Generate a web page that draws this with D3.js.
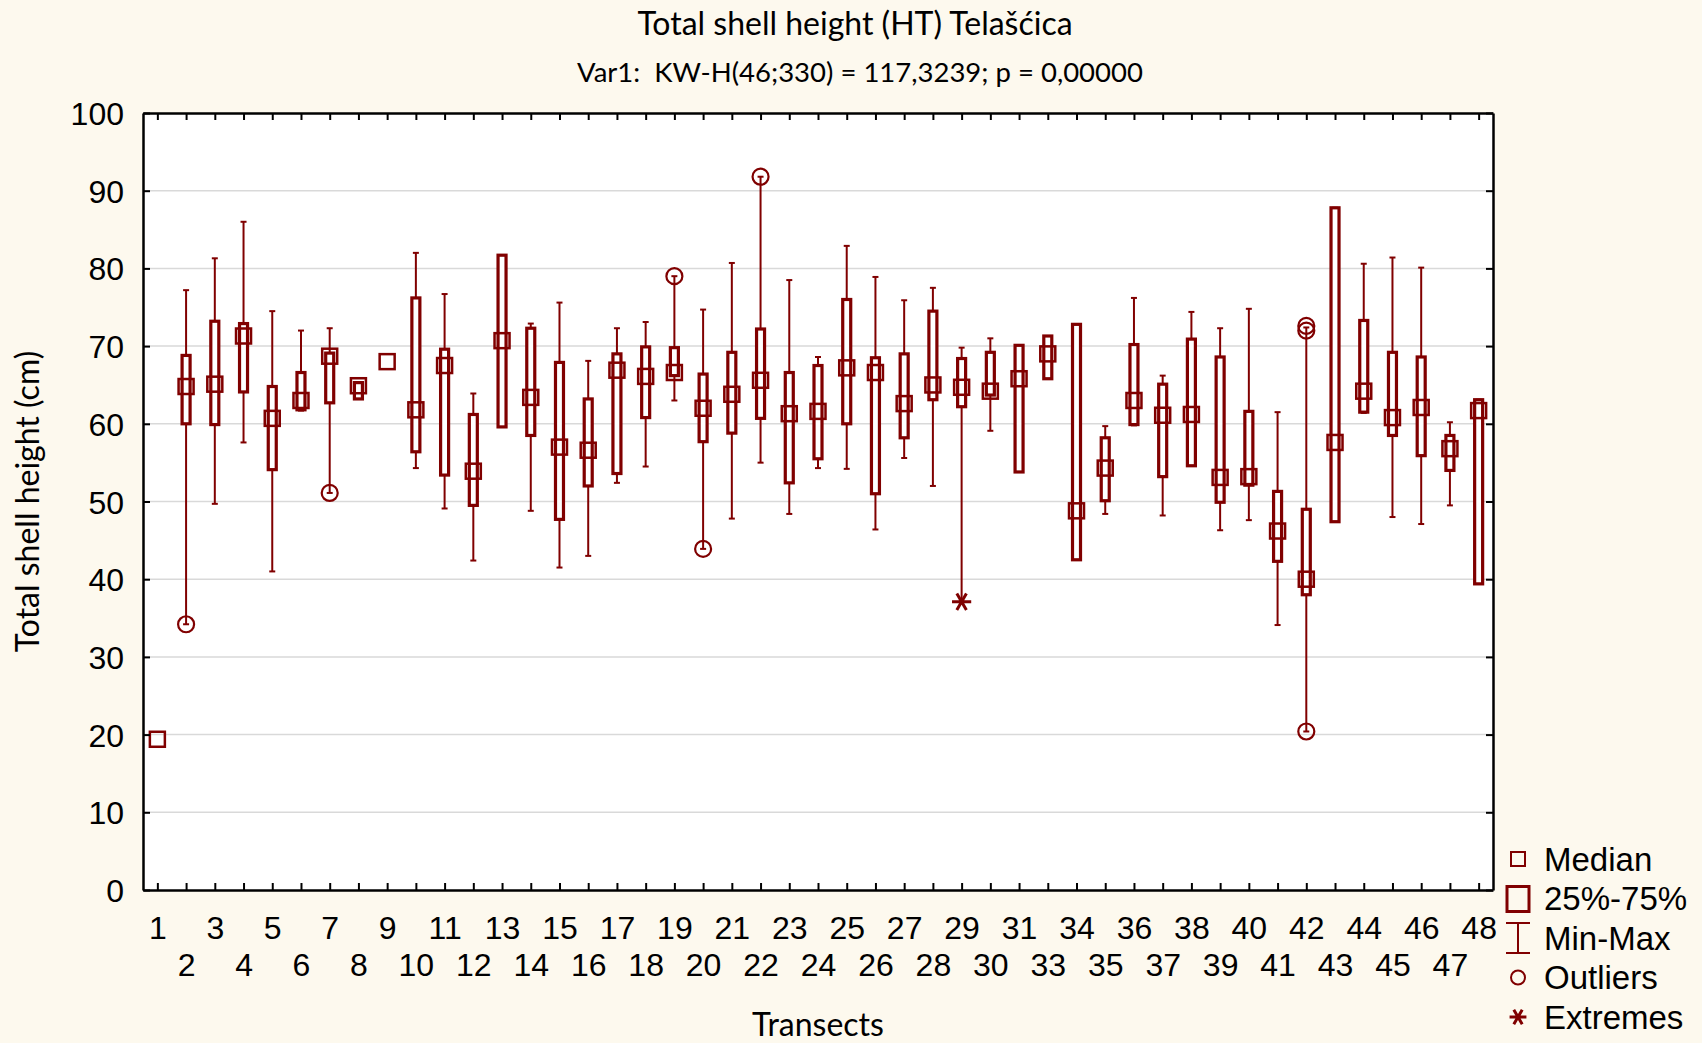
<!DOCTYPE html>
<html>
<head>
<meta charset="utf-8">
<script src="https://d3js.org/d3.v7.min.js"></script>
<style>
  body { margin: 0; background: #fdf9ee; }
  svg { display: block; }
</style>
</head>
<body>
<svg width="1702" height="1043"></svg>
<script>
// box plot of total shell height per transect

var transects = ['1','2','3','4','5','6','7','8','9','10','11','12','13','14','15','16',
  '17','18','19','20','21','22','23','24','25','26','27','28','29','30','31','33',
  '34','35','36','37','38','39','40','41','42','43','44','45','46','47','48'];

var mins    = [19.4,34.2,49.7,57.6,41.0,61.7,51.1,63.2,68.0,54.3,49.1,42.4,59.6,48.8,41.5,43.0,
  52.4,54.5,63.0,43.9,47.8,55.0,48.4,54.3,54.2,46.4,55.6,52.0,37.1,59.1,53.8,65.8,
  42.5,48.4,59.8,48.2,54.6,46.3,47.6,34.1,20.4,47.4,61.4,48.0,47.1,49.5,39.4];
var q1s     = [19.4,60.0,59.9,64.1,54.1,61.8,62.7,63.2,68.0,56.4,53.4,49.5,59.6,58.5,47.7,52.0,
  53.6,60.8,66.2,57.7,58.8,60.7,52.4,55.5,60.0,51.0,58.2,63.1,62.2,63.7,53.8,65.8,
  42.5,50.1,59.9,53.2,54.6,49.9,52.1,42.3,38.0,47.4,61.5,58.5,55.9,54.0,39.4];
var medians = [19.4,64.8,65.1,71.3,60.7,63.0,68.7,64.9,68.0,61.8,67.5,53.9,70.7,63.4,57.0,56.6,
  66.9,66.1,66.6,62.0,63.8,65.6,61.3,61.6,67.2,66.6,62.6,65.0,64.7,64.2,65.8,69.0,
  48.8,54.3,63.0,61.1,61.2,53.1,53.2,46.2,40.0,57.6,64.2,60.8,62.1,56.8,61.7];
var q3s     = [19.4,68.8,73.2,72.9,64.8,66.6,69.1,65.3,68.0,76.2,69.6,61.2,81.7,72.3,67.9,63.2,
  69.0,69.9,69.8,66.4,69.2,72.2,66.6,67.5,76.0,68.5,69.0,74.5,68.4,69.2,70.1,71.3,
  72.8,58.2,70.2,65.1,70.9,68.6,61.6,51.3,49.0,87.8,73.3,69.2,68.6,58.5,63.1];
var maxs    = [19.4,77.2,81.3,86.0,74.5,72.0,72.3,65.3,68.0,82.0,76.7,63.9,81.7,72.9,75.6,68.1,
  72.3,73.1,79.0,74.7,80.7,91.8,78.5,68.6,82.9,78.9,75.9,77.5,69.8,71.0,70.1,71.3,
  72.8,59.7,76.2,66.2,74.4,72.3,74.8,61.5,72.4,87.8,80.6,81.4,80.1,60.2,63.1];

// outliers and extremes as [transect, value]
var outliers = [['2',34.2],['7',51.1],['19',79.0],['20',43.9],['22',91.8],
  ['42',20.4],['42',72.0],['42',72.6]];
var extremes = [['29',37.1]];

var yTicks = d3.range(0, 101, 10);
var legendItems = ['Median', '25%-75%', 'Min-Max', 'Outliers', 'Extremes'];

var red = '#800000';
var svg = d3.select('svg');
var pLeft = 143, pRight = 1493, pTop = 113, pBottom = 890;

svg.append('rect').attr('width', 1702).attr('height', 1043).attr('fill', '#fdf9ee');
svg.append('rect').attr('x', pLeft).attr('y', pTop)
  .attr('width', pRight - pLeft).attr('height', pBottom - pTop).attr('fill', '#fff');

var x = d3.scalePoint().domain(transects).range([pLeft, pRight]).padding(0.5);
var y = d3.scaleLinear().domain([0, 100]).range([pBottom, pTop]);

// gridlines
svg.append('g').selectAll('line')
  .data(yTicks.filter(function(d){ return d > 0 && d < 100; }))
  .enter().append('line')
  .attr('x1', pLeft).attr('x2', pRight)
  .attr('y1', function(d){ return y(d); }).attr('y2', function(d){ return y(d); })
  .attr('stroke', '#d9d9d9').attr('stroke-width', 1.5);

var data = transects.map(function(t, i){
  return {t: t, min: mins[i], q1: q1s[i], med: medians[i], q3: q3s[i], max: maxs[i]};
});

var g = svg.append('g');

// whiskers
var wg = g.selectAll('g.whisk').data(data).enter().append('g')
  .attr('stroke', red).attr('stroke-width', 2);
wg.filter(function(d){ return d.max > d.min; }).append('line')
  .attr('x1', function(d){ return x(d.t); }).attr('x2', function(d){ return x(d.t); })
  .attr('y1', function(d){ return y(d.min); }).attr('y2', function(d){ return y(d.max); });
wg.filter(function(d){ return d.max > d.min; }).selectAll('line.cap')
  .data(function(d){ return [[d.t, d.min], [d.t, d.max]]; })
  .enter().append('line')
  .attr('x1', function(d){ return x(d[0]) - 3; }).attr('x2', function(d){ return x(d[0]) + 3; })
  .attr('y1', function(d){ return y(d[1]); }).attr('y2', function(d){ return y(d[1]); });

// boxes
g.selectAll('rect.box').data(data.filter(function(d){ return d.q3 > d.q1; }))
  .enter().append('rect')
  .attr('x', function(d){ return x(d.t) - 4; })
  .attr('y', function(d){ return y(d.q3); })
  .attr('width', 8)
  .attr('height', function(d){ return y(d.q1) - y(d.q3); })
  .attr('fill', '#fff').attr('stroke', red).attr('stroke-width', 3.2);

// medians
g.selectAll('rect.med').data(data)
  .enter().append('rect')
  .attr('x', function(d){ return x(d.t) - 7.5; })
  .attr('y', function(d){ return y(d.med) - 7.5; })
  .attr('width', 15).attr('height', 15)
  .attr('fill', 'none').attr('stroke', red).attr('stroke-width', 2.5);

// outliers
g.selectAll('circle').data(outliers)
  .enter().append('circle')
  .attr('cx', function(d){ return x(d[0]); })
  .attr('cy', function(d){ return y(d[1]); })
  .attr('r', 8).attr('fill', 'none').attr('stroke', red).attr('stroke-width', 2.2);

// extremes
var star = d3.symbol().type(d3.symbolAsterisk).size(260);
g.selectAll('path.ext').data(extremes)
  .enter().append('path')
  .attr('transform', function(d){ return 'translate(' + x(d[0]) + ',' + y(d[1]) + ') rotate(90)'; })
  .attr('d', star).attr('fill', 'none').attr('stroke', red).attr('stroke-width', 3);

// axes, ticks point inward
var font = '"Liberation Sans", Arial, sans-serif';
var yAxis = svg.append('g').attr('transform', 'translate(' + pLeft + ',0)')
  .call(d3.axisLeft(y).tickValues(yTicks).tickSize(-7).tickSizeOuter(0).tickPadding(19));
var yAxisR = svg.append('g').attr('transform', 'translate(' + pRight + ',0)')
  .call(d3.axisRight(y).tickValues(yTicks).tickSize(-7).tickSizeOuter(0).tickFormat(''));
var xAxis = svg.append('g').attr('transform', 'translate(0,' + pBottom + ')')
  .call(d3.axisBottom(x).tickSize(-7).tickSizeOuter(0));
var xAxisT = svg.append('g').attr('transform', 'translate(0,' + pTop + ')')
  .call(d3.axisTop(x).tickSize(-7).tickSizeOuter(0).tickFormat(''));

[yAxis, yAxisR, xAxis, xAxisT].forEach(function(a){
  a.select('.domain').attr('stroke', '#000').attr('stroke-width', 2.5);
  a.selectAll('.tick line').attr('stroke', '#000').attr('stroke-width', 2);
  a.selectAll('text').attr('font-family', font).attr('font-size', 32).attr('fill', '#000');
});
yAxis.selectAll('text').attr('dy', '0.36em');
xAxis.selectAll('.tick text')
  .attr('y', function(d, i){ return i % 2 ? 63 : 26; });

// titles
var tfont = 'Lato, "Open Sans", sans-serif';
svg.append('text').attr('x', 855).attr('y', 24).attr('dy', '0.35em')
  .attr('text-anchor', 'middle').attr('font-family', tfont).attr('font-size', 32)
  .text('Total shell height (HT) Telašćica');
svg.append('text').attr('x', 860).attr('y', 72).attr('dy', '0.35em')
  .attr('text-anchor', 'middle').attr('font-family', tfont).attr('font-size', 27.5)
  .attr('xml:space', 'preserve')
  .text('Var1:  KW-H(46;330) = 117,3239; p = 0,00000');
svg.append('text').attr('x', (pLeft + pRight) / 2).attr('y', 1025).attr('dy', '0.35em')
  .attr('text-anchor', 'middle').attr('font-family', tfont).attr('font-size', 32)
  .text('Transects');
svg.append('text').attr('transform', 'translate(28,' + ((pTop + pBottom) / 2) + ') rotate(-90)')
  .attr('dy', '0.35em').attr('text-anchor', 'middle').attr('font-family', tfont).attr('font-size', 32)
  .text('Total shell height (cm)');

// legend
var lg = svg.append('g');
var ly = d3.scalePoint().domain(legendItems).range([859, 1017]);
var lx = 1518;
lg.append('rect').attr('x', lx - 7).attr('y', ly('Median') - 7).attr('width', 14).attr('height', 14)
  .attr('fill', 'none').attr('stroke', red).attr('stroke-width', 2);
lg.append('rect').attr('x', lx - 11).attr('y', ly('25%-75%') - 12).attr('width', 22).attr('height', 25)
  .attr('fill', 'none').attr('stroke', red).attr('stroke-width', 3);
var mm = ly('Min-Max');
lg.append('path').attr('d', 'M' + (lx - 12) + ',' + (mm - 15) + 'H' + (lx + 12) +
    'M' + lx + ',' + (mm - 15) + 'V' + (mm + 15) + 'M' + (lx - 12) + ',' + (mm + 15) + 'H' + (lx + 12))
  .attr('fill', 'none').attr('stroke', red).attr('stroke-width', 2);
lg.append('circle').attr('cx', lx).attr('cy', ly('Outliers')).attr('r', 7)
  .attr('fill', 'none').attr('stroke', red).attr('stroke-width', 2);
lg.append('path').attr('transform', 'translate(' + lx + ',' + ly('Extremes') + ') rotate(90)')
  .attr('d', d3.symbol().type(d3.symbolAsterisk).size(200))
  .attr('fill', 'none').attr('stroke', red).attr('stroke-width', 3);
lg.selectAll('text').data(legendItems).enter().append('text')
  .attr('x', 1544).attr('y', function(d){ return ly(d); }).attr('dy', '0.36em')
  .attr('font-family', font).attr('font-size', 33)
  .text(function(d){ return d; });
</script>
</body>
</html>
